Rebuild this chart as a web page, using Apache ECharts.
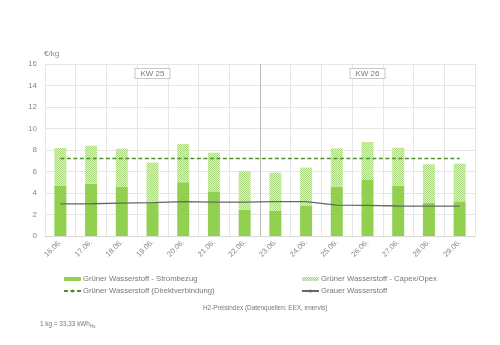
<!DOCTYPE html>
<html>
<head>
<meta charset="utf-8">
<script src="https://cdn.jsdelivr.net/npm/echarts@6/dist/echarts.min.js"></script>
<style>html,body{margin:0;padding:0;background:#fff}#c{width:500px;height:345px}</style>
</head>
<body>
<div id="c"></div>
<script>
const categories = ['16.06.','17.06.','18.06.','19.06.','20.06.','21.06.','22.06.','23.06.','24.06.','25.06.','26.06.','27.06.','28.06.','29.06.'];
const weekLabels = ['KW 25','KW 26'];
const strombezug = [4.65, 4.87, 4.59, 3.2, 5.0, 4.15, 2.45, 2.33, 2.79, 4.59, 5.21, 4.68, 3.1, 3.22];
const totalGreen = [8.19, 8.4, 8.12, 6.83, 8.56, 7.75, 6.05, 5.89, 6.36, 8.15, 8.74, 8.22, 6.67, 6.73];
const capexOpex = totalGreen.map((t, i) => +(t - strombezug[i]).toFixed(2));
const direktverbindung = [7.2, 7.2, 7.2, 7.2, 7.2, 7.2, 7.2, 7.2, 7.2, 7.2, 7.2, 7.2, 7.2, 7.2];
const grauer = [2.98, 3.0, 3.05, 3.1, 3.19, 3.15, 3.15, 3.19, 3.19, 2.88, 2.85, 2.79, 2.77, 2.77];

const FONT = 'Liberation Sans, Arial, sans-serif';
const pc = document.createElement('canvas');
pc.width = 2; pc.height = 2;
const px = pc.getContext('2d');
px.fillStyle = '#e3f1d3'; px.fillRect(0, 0, 2, 2);
px.fillStyle = '#acd781'; px.fillRect(0, 0, 1, 1); px.fillRect(1, 1, 1, 1);
const hatch = { image: pc, repeat: 'repeat' };

const chart = echarts.init(document.getElementById('c'), null, { renderer: 'canvas' });
const option = {
  animation: false,
  textStyle: { fontFamily: FONT },
  grid: { left: 45, right: 25, top: 64, bottom: 109, containLabel: false },
  title: [
    { text: 'H2-Preisindex (Datenquellen: EEX, enervis)', left: 198, top: 300,
      textStyle: { fontSize: 6.4, fontWeight: 'normal', color: '#777', fontFamily: FONT } },
    { text: '{a|1 kg = 33,33 kWh}{s|Hs}', left: 35, top: 315,
      textStyle: { fontWeight: 'normal', rich: {
        a: { fontSize: 6.4, color: '#777', fontFamily: FONT, fontWeight: 'normal' },
        s: { fontSize: 4.5, color: '#777', fontFamily: FONT, fontWeight: 'normal', padding: [4, 0, 0, 0] } } } }
  ],
  legend: [
    { orient: 'vertical', left: 58, top: 270, itemWidth: 17, itemHeight: 4, itemGap: 4,
      data: ['Grüner Wasserstoff - Strombezug', 'Grüner Wasserstoff (Direktverbindung)'],
      textStyle: { fontSize: 7.7, color: '#777', padding: [0, 0, 0, -3] } },
    { orient: 'vertical', left: 296, top: 270, itemWidth: 17, itemHeight: 4, itemGap: 4,
      data: ['Grüner Wasserstoff - Capex/Opex', 'Grauer Wasserstoff'],
      textStyle: { fontSize: 7.7, color: '#777', padding: [0, 0, 0, -3] } }
  ],
  xAxis: [
    { type: 'category', data: categories, boundaryGap: true,
      axisLine: { show: true, lineStyle: { color: '#d9d9d9' } },
      axisTick: { show: false },
      axisLabel: { rotate: 45, fontSize: 7.5, color: '#888', margin: 5, interval: 0 },
      splitLine: { show: true, interval: 0, lineStyle: { color: '#e6e6e6', width: 1 } } },
    { type: 'category', data: weekLabels, position: 'top', boundaryGap: true,
      axisLine: { show: false }, axisTick: { show: false }, splitLine: { show: false },
      axisLabel: { inside: true, margin: 5, fontSize: 8, color: '#777',
        borderColor: '#c8c8c8', borderWidth: 1, padding: [1, 5, 0, 5], backgroundColor: '#fff' } }
  ],
  yAxis: {
    type: 'value', min: 0, max: 16, interval: 2,
    name: '€/kg', nameLocation: 'end', nameGap: 6,
    nameTextStyle: { align: 'left', fontSize: 8, color: '#888', padding: [0, 0, 0, -1] },
    axisLine: { show: false }, axisTick: { show: false },
    axisLabel: { fontSize: 8, color: '#888', margin: 8 },
    splitLine: { lineStyle: { color: '#e6e6e6' } }
  },
  series: [
    { name: 'Grüner Wasserstoff - Strombezug', type: 'bar', stack: 'g', data: strombezug,
      barWidth: 12, itemStyle: { color: '#92d050' }, z: 3 },
    { name: 'Grüner Wasserstoff - Capex/Opex', type: 'bar', stack: 'g', data: capexOpex,
      barWidth: 12, itemStyle: { color: hatch }, z: 3 },
    { name: 'Grüner Wasserstoff (Direktverbindung)', type: 'line', data: direktverbindung,
      symbol: 'none', lineStyle: { color: '#4f8f2c', width: 1.5, type: [4, 2.5] },
      itemStyle: { color: '#4f8f2c' }, z: 5 },
    { name: 'Grauer Wasserstoff', type: 'line', data: grauer,
      symbol: 'none', lineStyle: { color: '#666', width: 1.3 },
      itemStyle: { color: '#666' }, z: 5 }
  ]
};
chart.setOption(option);
const xa = chart.convertToPixel({ xAxisIndex: 0 }, categories[6]);
const xb = chart.convertToPixel({ xAxisIndex: 0 }, categories[7]);
const yTop = chart.convertToPixel({ yAxisIndex: 0 }, 16);
const yBot = chart.convertToPixel({ yAxisIndex: 0 }, 0);
const xs = Math.round((xa + xb) / 2) + 0.5;
chart.setOption({ graphic: [{ type: 'line', shape: { x1: xs, y1: yTop, x2: xs, y2: yBot },
  style: { stroke: '#bdbdbd', lineWidth: 1 }, z: 1 }] });
</script>
</body>
</html>
